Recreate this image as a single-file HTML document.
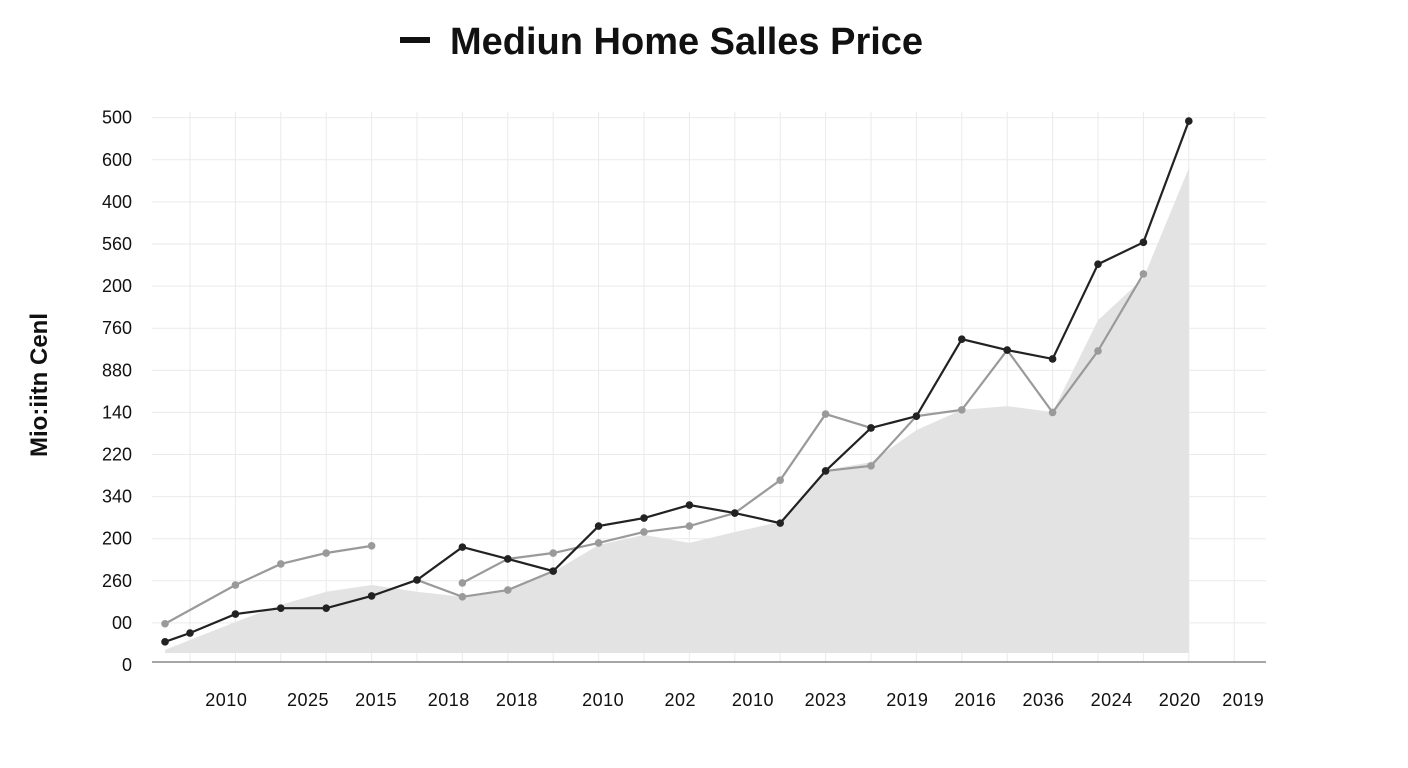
<!DOCTYPE html>
<html><head><meta charset="utf-8"><style>
body{margin:0;background:#fff;width:1408px;height:768px;overflow:hidden;font-family:"Liberation Sans",sans-serif}
svg{display:block}
</style></head><body>
<svg id="c" width="1408" height="768">
<rect x="400" y="37" width="30" height="6" fill="#111"/>
<text x="450" y="54" font-size="38" font-weight="bold" fill="#111">Mediun Home Salles Price</text>
<text transform="translate(47,385) rotate(-90)" text-anchor="middle" font-size="24" font-weight="bold" fill="#111">Mio:iitn Cenl</text>
<g id="grid"></g><g id="area"></g><g id="series"></g><g id="axes"></g>
</svg>
<script>
const yTicks=["500","600","400","560","200","760","880","140","220","340","200","260","00","0"];
const xLabels=["2010","2025","2015","2018","2018","2010","202","2010","2023","2019","2016","2036","2024","2020","2019"];
const xLabelPos=[1.8,3.6,5.1,6.7,8.2,10.1,11.8,13.4,15.0,16.8,18.3,19.8,21.3,22.8,24.2];
const darkT=[0.45,1,2,3,4,5,6,7,8,9,10,11,12,13,14,15,16,17,18,19,20,21,22,23];
const darkV=[0.55,0.76,1.21,1.35,1.35,1.64,2.02,2.80,2.52,2.23,3.30,3.49,3.80,3.61,3.37,4.61,5.63,5.91,7.74,7.48,7.27,9.52,10.04,12.92];
const grayAT=[0.45,2,3,4,5];
const grayAV=[0.98,1.90,2.40,2.66,2.83];
const grayBT=[7,8,9,10,11,12,13,14,15,16];
const grayBV=[1.95,2.52,2.66,2.90,3.16,3.30,3.61,4.39,5.96,5.63];
const grayCT=[6,7,8,9];
const grayCV=[2.02,1.62,1.78,2.23];
const grayDT=[15,16,17,18,19,20,21,22];
const grayDV=[4.61,4.73,5.91,6.06,7.48,6.00,7.46,9.29];
const areaT=[0.45,2,3,4,5,6,7,8,9,10,11,12,13,14,15,16,17,18,19,20,21,22,23];
const areaV=[0.36,1.02,1.43,1.74,1.90,1.74,1.62,1.78,2.21,2.85,3.09,2.90,3.16,3.40,4.63,4.82,5.58,6.06,6.15,6.01,8.19,9.19,11.80];
const NS='http://www.w3.org/2000/svg';
const X=t=>144.6+45.4*t, Y=v=>665-42.1*v;
function mk(tag,p,a){const e=document.createElementNS(NS,tag);for(const k in a)e.setAttribute(k,a[k]);p.appendChild(e);return e;}
const grid=document.getElementById('grid'),axes=document.getElementById('axes'),ser=document.getElementById('series'),ar=document.getElementById('area');
yTicks.forEach((s,i)=>{const y=Y(13-i);
 if(i<13){const l=mk('line',grid,{x1:152,x2:1266,y1:y,y2:y,stroke:'#e8eaec','stroke-width':1});
 }
 const t=mk('text',axes,{x:132,y:y+6,'text-anchor':'end','font-size':18,fill:'#111'});t.textContent=s;
 });
for(let i=1;i<=24;i++){const l=mk('line',grid,{x1:X(i),x2:X(i),y1:112,y2:662,stroke:'#e8eaec','stroke-width':1});
 }
const ax=mk('line',axes,{x1:152,x2:1266,y1:662,y2:662,stroke:'#888','stroke-width':1.5});

xLabels.forEach((s,i)=>{const t=mk('text',axes,{x:X(xLabelPos[i]),y:706,'text-anchor':'middle','font-size':18,fill:'#111','letter-spacing':'0.5'});t.textContent=s;
 });
let d='M'+X(areaT[0])+','+653;areaT.forEach((t,i)=>d+=' L'+X(t)+','+Y(areaV[i]));d+=' L'+X(areaT[areaT.length-1])+',653 Z';
const a=mk('path',ar,{d:d,fill:'#e3e3e3'});
function line(T,V,col,name){const p=mk('polyline',ser,{points:T.map((t,i)=>X(t)+','+Y(V[i])).join(' '),fill:'none',stroke:col,'stroke-width':2.2});
 
 T.forEach((t,i)=>{const c=mk('circle',ser,{cx:X(t),cy:Y(V[i]),r:3.8,fill:col});
 });}
line(grayAT,grayAV,'#9a9a9a','gray-series-a');
line(grayBT,grayBV,'#9a9a9a','gray-series-b');
line(grayCT,grayCV,'#9a9a9a','gray-series-c');
line(grayDT,grayDV,'#9a9a9a','gray-series-d');
line(darkT,darkV,'#222','dark-series');
</script>
</body></html>
